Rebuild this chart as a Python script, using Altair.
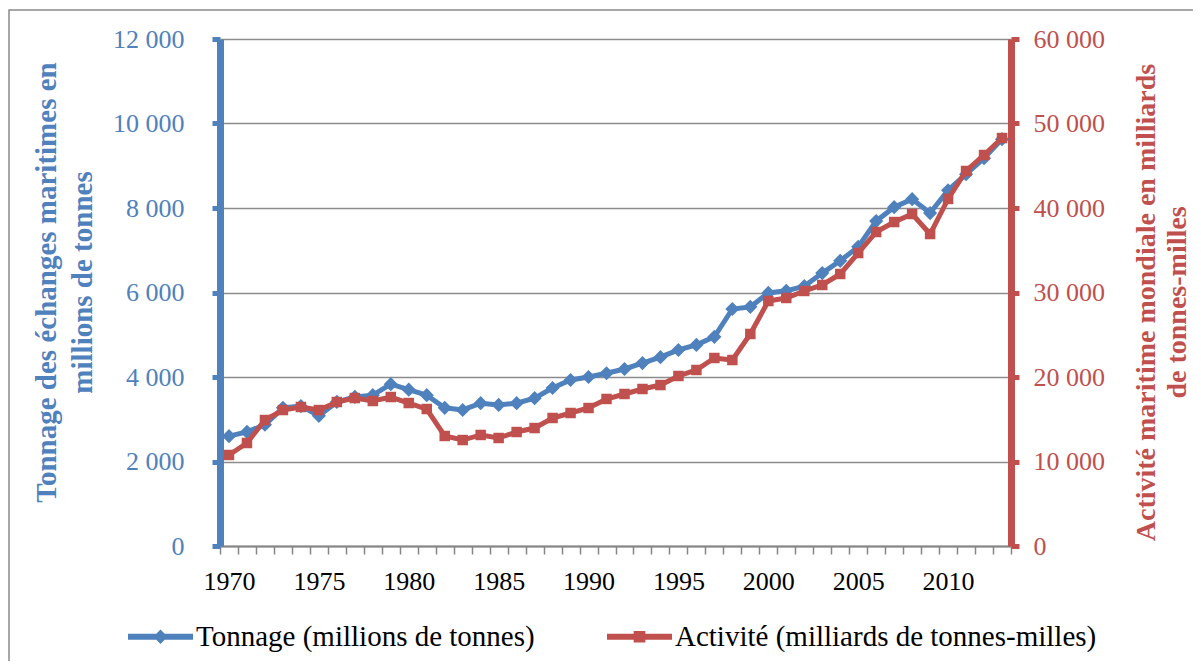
import altair as alt
import pandas as pd

years = list(range(1970, 2014))
tonnage = [2600, 2700, 2870, 3270, 3310, 3080, 3410, 3530, 3570, 3830,
           3700, 3570, 3270, 3220, 3380, 3340, 3380, 3500, 3740, 3930,
           4000, 4090, 4190, 4330, 4470, 4640, 4760, 4950, 5610, 5660,
           5990, 6040, 6150, 6460, 6750, 7080, 7690, 8020, 8210, 7880,
           8420, 8800, 9180, 9630]
activite = [10770, 12190, 14910, 16090, 16450, 16090, 17040, 17510, 17160, 17630,
            16920, 16210, 13020, 12540, 13140, 12780, 13490, 13960, 15150, 15740,
            16330, 17400, 17990, 18580, 19050, 20120, 20830, 22250, 22010, 25090,
            28990, 29350, 30180, 30890, 32190, 34670, 37160, 38340, 39290, 36920,
            41070, 44380, 46270, 48280]
series_names = ["Tonnage (millions de tonnes)", "Activité (milliards de tonnes-milles)"]
left_ticks = [0, 2000, 4000, 6000, 8000, 10000, 12000]
right_ticks = [0, 10000, 20000, 30000, 40000, 50000, 60000]
x_ticks = [y - 0.5 for y in range(1970, 2015)]

BLUE = "#4F81BD"
RED = "#C0504D"
FONT = "Liberation Serif"

df = pd.DataFrame({"year": years, "tonnage": tonnage, "activite": activite})
leg_df = pd.DataFrame({"series": series_names})

x_enc = alt.X(
    "year:Q",
    scale=alt.Scale(domain=[1969.5, 2013.5], nice=False, zero=False),
    axis=alt.Axis(
        values=x_ticks, title=None, grid=False,
        domainColor="#868686", domainWidth=2,
        tickColor="#868686", tickWidth=1.5, tickSize=8,
        labelExpr="(datum.value + 0.5) % 5 == 0 ? toString(datum.value + 0.5) : ''",
        labelOffset=9, labelOverlap=False, labelFlush=False,
        labelFont=FONT, labelFontSize=26, labelColor="black", labelPadding=14,
    ),
)

y_left = alt.Y(
    "tonnage:Q",
    scale=alt.Scale(domain=[0, 12000], nice=False),
    axis=alt.Axis(
        orient="left", values=left_ticks,
        labelExpr="replace(format(datum.value, ','), ',', ' ')",
        labelFont=FONT, labelFontSize=26, labelColor=BLUE, labelPadding=28,
        domainColor=BLUE, domainWidth=7, tickColor=BLUE, tickWidth=5, tickSize=8,
        grid=True, gridColor="#8c8c8c", gridWidth=1.5,
        title=["Tonnage des échanges maritimes en", "millions de tonnes"],
        titleFont=FONT, titleFontSize=29, titleFontWeight="bold", titleColor=BLUE,
        titleAngle=270, titleBaseline="middle", titleAlign="center",
        titleX=-174, titleY=243, titleLineHeight=36,
    ),
)

y_right = alt.Y(
    "activite:Q",
    scale=alt.Scale(domain=[0, 60000], nice=False),
    axis=alt.Axis(
        orient="right", values=right_ticks,
        labelExpr="replace(format(datum.value, ','), ',', ' ')",
        labelFont=FONT, labelFontSize=26, labelColor=RED, labelPadding=14,
        domainColor=RED, domainWidth=7, tickColor=RED, tickWidth=5, tickSize=8,
        grid=False,
        title=["Activité maritime mondiale en milliards", "de tonnes-milles"],
        titleFont=FONT, titleFontSize=28, titleFontWeight="bold", titleColor=RED,
        titleAngle=270, titleBaseline="middle", titleAlign="center",
        titleX=135, titleY=263, titleLineHeight=31,
    ),
)

base = alt.Chart(df)

blue_line = base.mark_line(color=BLUE, strokeWidth=5).encode(x=x_enc, y=y_left)
blue_pts = base.mark_point(shape="diamond", filled=True, color=BLUE, opacity=1, size=200).encode(x=x_enc, y=y_left)
red_line = base.mark_line(color=RED, strokeWidth=5).encode(x=x_enc, y=y_right)
red_pts = base.mark_point(shape="square", filled=True, color=RED, opacity=1, size=110).encode(x=x_enc, y=y_right)

blue = alt.layer(blue_line, blue_pts)
red = alt.layer(red_line, red_pts)

blue_sym = "M-1,-0.09H1V0.09H-1Z M0,-0.22L0.22,0L0,0.22L-0.22,0Z"
red_sym = "M-1,-0.09H1V0.09H-1Z M-0.18,-0.18H0.18V0.18H-0.18Z"

legend_layer = alt.Chart(leg_df).mark_point(filled=True, opacity=1, size=4225).encode(
    color=alt.Color("series:N", scale=alt.Scale(domain=series_names, range=[BLUE, RED]),
                    legend=alt.Legend(
                        orient="none", legendX=-92, legendY=565, direction="horizontal",
                        title=None, labelFont=FONT, labelFontSize=29, labelColor="black",
                        labelOffset=3, columnPadding=72, symbolSize=4225,
                        symbolStrokeWidth=0, labelLimit=600,
                    )),
    shape=alt.Shape("series:N", scale=alt.Scale(domain=series_names, range=[blue_sym, red_sym]),
                    legend=None),
).transform_filter("false")

frame = alt.Chart(pd.DataFrame({"k": [0]})).mark_rect(
    filled=False, stroke="#8a8a8a", strokeWidth=1.5
).encode(
    x=alt.value(-211), x2=alt.value(976), y=alt.value(-29), y2=alt.value(640)
)

chart = alt.layer(blue, red, legend_layer, frame).resolve_scale(
    y="independent"
).properties(
    width=791, height=507,
    autosize=alt.AutoSizeParams(type="none"),
    padding={"left": 212, "top": 31, "right": 182, "bottom": 115},
).configure_view(stroke="transparent")

chart.save("out.html", embed_options={"renderer": "svg", "actions": False})
